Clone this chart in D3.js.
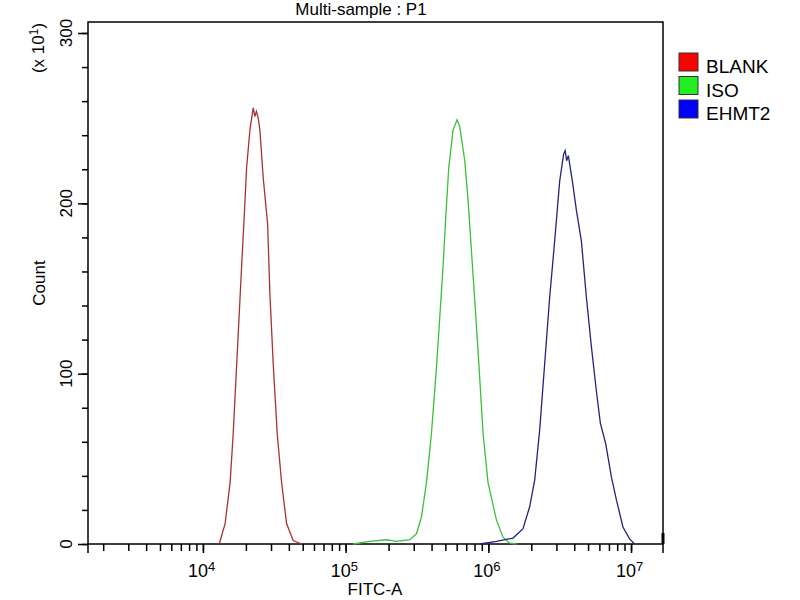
<!DOCTYPE html>
<html>
<head>
<meta charset="utf-8">
<script src="https://cdn.jsdelivr.net/npm/d3@7"></script>
<style>
  body { margin: 0; background: #fff; }
  text { font-family: "Liberation Sans", Arial, sans-serif; }
</style>
</head>
<body>
<div id="chart"></div>
<script>
// histogram values (FITC-A value, count in x10^1)
var blankX = [13000, 14300, 15500, 16300, 17200, 17960, 18660, 19460, 20230, 21340, 22500, 23130, 23700, 24400, 25070, 26440, 28390, 29460, 31070, 33140, 35580, 38560, 42890, 49110];
var blankCount = [0, 12, 36, 65, 104, 135, 163, 192, 221, 243, 256, 251, 254, 250, 243, 215, 188, 147, 106, 65, 36, 12, 2, 0];

var isoX = [112900, 147700, 193400, 227200, 281600, 313700, 340100, 368600, 399500, 433200, 456700, 481700, 503000, 528100, 565800, 603700, 630600, 683500, 720800, 761600, 803200, 860900, 918200, 995200, 1140000, 1268000, 1413000, 1573000];
var isoCount = [0, 1.5, 2.5, 1.5, 2.5, 6, 16, 36, 65, 104, 133, 163, 192, 221, 243, 249, 245, 225, 202, 172, 143, 104, 65, 36, 14, 4, 0.5, 0];

var ehmtX = [870700, 1140000, 1489000, 1750000, 1950000, 2113000, 2290000, 2483000, 2692000, 2917000, 3162000, 3373000, 3456000, 3540000, 3638000, 3880000, 4140000, 4487000, 4864000, 5272000, 5714000, 6095000, 6640000, 7278000, 7891000, 8776000, 9777000, 10600000];
var ehmtCount = [0, 1.5, 3.5, 9, 22, 37.5, 67, 106, 145, 178, 213, 229, 231, 225, 228, 213, 196, 178, 145, 116, 90, 71, 59, 39.5, 26, 10, 3, 0];

var seriesNames = ["BLANK", "ISO", "EHMT2"];
var lineColors = ["#a83232", "#3cbf3c", "#23237a"];
var legendColors = ["#ff0000", "#22ee22", "#0000ff"];
var decades = [10000, 100000, 1000000, 10000000];
var yMajor = [0, 100, 200, 300];

var w = 800, h = 600;
var mLeft = 88, mRight = 663, mTop = 22, mBottom = 544;

var svg = d3.select("#chart")
    .append("svg")
    .attr("width", w)
    .attr("height", h);

var x = d3.scaleLog()
    .domain([1565, 16750000])
    .range([mLeft, mRight]);

var y = d3.scaleLinear()
    .domain([0, 300])
    .range([mBottom, 33]);

// frame
svg.append("rect")
    .attr("x", mLeft)
    .attr("y", mTop)
    .attr("width", mRight - mLeft)
    .attr("height", mBottom - mTop)
    .attr("fill", "none")
    .attr("stroke", "#000")
    .attr("stroke-width", 1.5);

// little mark on right border
svg.append("line")
    .attr("x1", mRight).attr("x2", mRight)
    .attr("y1", 533).attr("y2", mBottom)
    .attr("stroke", "#000")
    .attr("stroke-width", 3);

// x minor ticks
var minor = [];
for (var e = 3; e <= 7; e++) {
    for (var m = 1; m <= 9; m++) {
        var v = m * Math.pow(10, e);
        if (v >= x.domain()[0] && v <= x.domain()[1]) minor.push(v);
    }
}

var xMinor = d3.axisBottom(x).tickValues(minor).tickSize(7).tickFormat("");
svg.append("g")
    .attr("transform", "translate(0," + mBottom + ")")
    .call(xMinor)
    .call(function (g) { g.select(".domain").remove(); })
    .selectAll("line").attr("stroke-width", 1.5);

var xMajor = d3.axisBottom(x).tickValues(decades).tickSize(9).tickFormat("");
var gx = svg.append("g")
    .attr("transform", "translate(0," + mBottom + ")")
    .call(xMajor);
gx.select(".domain").remove();
gx.selectAll("line").attr("stroke-width", 1.5);

// corner ticks going below the axis
[mLeft, mRight].forEach(function (px) {
    svg.append("line")
        .attr("x1", px).attr("x2", px)
        .attr("y1", mBottom).attr("y2", 553)
        .attr("stroke", "#000").attr("stroke-width", 1.5);
});

// decade labels 10^n
var lab = svg.selectAll(".xlab")
    .data(decades)
    .enter()
    .append("text")
    .attr("class", "xlab")
    .attr("x", function (d) { return x(d) - 15; })
    .attr("y", 577)
    .style("font-size", "18px");
lab.append("tspan").text("10");
lab.append("tspan")
    .attr("dy", -6)
    .style("font-size", "13px")
    .text(function (d) { return Math.round(Math.log10(d)); });

// y ticks
var yMinor = d3.axisLeft(y).tickValues(d3.range(0, 301, 20)).tickSize(6).tickFormat("");
svg.append("g")
    .attr("transform", "translate(" + mLeft + ",0)")
    .call(yMinor)
    .call(function (g) { g.select(".domain").remove(); })
    .selectAll("line").attr("stroke-width", 1.5);

var yMaj = d3.axisLeft(y).tickValues(yMajor).tickSize(10).tickFormat("");
svg.append("g")
    .attr("transform", "translate(" + mLeft + ",0)")
    .call(yMaj)
    .call(function (g) { g.select(".domain").remove(); })
    .selectAll("line").attr("stroke-width", 1.5);

svg.selectAll(".ylab")
    .data(yMajor)
    .enter()
    .append("text")
    .attr("class", "ylab")
    .attr("transform", function (d) { return "translate(72," + y(d) + ") rotate(-90)"; })
    .attr("text-anchor", "middle")
    .style("font-size", "17px")
    .text(function (d) { return d; });

// (x 10^1)
var mult = svg.append("text")
    .attr("transform", "translate(44,48) rotate(-90)")
    .attr("text-anchor", "middle")
    .style("font-size", "17px");
mult.append("tspan").text("(x 10");
mult.append("tspan").attr("dy", -6).style("font-size", "12px").text("1");
mult.append("tspan").attr("dy", 6).text(")");

svg.append("text")
    .attr("transform", "translate(45,283) rotate(-90)")
    .attr("text-anchor", "middle")
    .style("font-size", "17px")
    .text("Count");

svg.append("text")
    .attr("x", 375)
    .attr("y", 595)
    .attr("text-anchor", "middle")
    .style("font-size", "17px")
    .text("FITC-A");

svg.append("text")
    .attr("x", 361)
    .attr("y", 15)
    .attr("text-anchor", "middle")
    .style("font-size", "17px")
    .text("Multi-sample : P1");

// histogram lines
var seriesX = [blankX, isoX, ehmtX];
var seriesY = [blankCount, isoCount, ehmtCount];

var line = d3.line()
    .x(function (d) { return x(d[0]); })
    .y(function (d) { return y(d[1]); });

for (var i = 0; i < seriesX.length; i++) {
    var pts = d3.zip(seriesX[i], seriesY[i]);
    svg.append("path")
        .datum(pts)
        .attr("d", line)
        .attr("fill", "none")
        .attr("stroke", lineColors[i])
        .attr("stroke-width", 1.3);
}

// legend
var leg = svg.selectAll(".leg")
    .data(seriesNames)
    .enter()
    .append("g")
    .attr("class", "leg")
    .attr("transform", function (d, i) { return "translate(679," + (53 + i * 23.5) + ")"; });

leg.append("rect")
    .attr("width", 19)
    .attr("height", 18)
    .attr("fill", function (d, i) { return legendColors[i]; })
    .attr("stroke", "#333")
    .attr("stroke-width", 1);

leg.append("text")
    .attr("x", 27)
    .attr("y", 20)
    .style("font-size", "19px")
    .text(function (d) { return d; });
</script>
</body>
</html>
